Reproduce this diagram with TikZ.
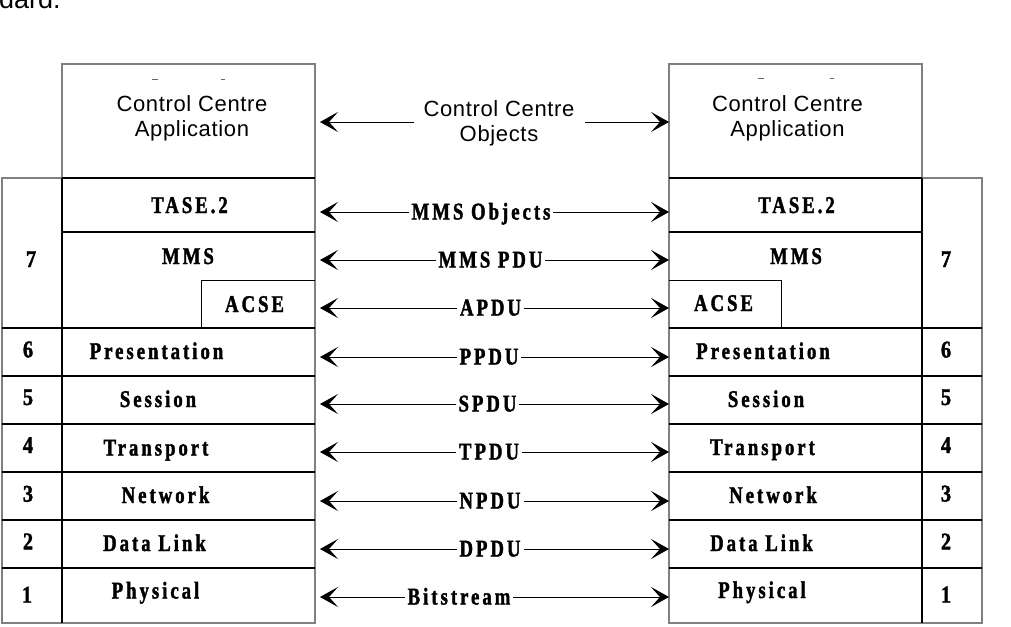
\documentclass[tikz,border=0pt]{standalone}
\usepackage{fontspec}
\setmainfont{Liberation Sans}
\newfontfamily\ccfont{Liberation Sans}[LetterSpace=3]
\newfontfamily\layerfont{Liberation Serif}[BoldFont={Liberation Serif Bold},FakeStretch=0.78,LetterSpace=12.5,FakeBold=1.6]
\newfontfamily\digitfont{Liberation Serif}[BoldFont={Liberation Serif Bold},FakeStretch=0.85,FakeBold=1.6]
\usetikzlibrary{arrows.meta}

\begin{document}
\begin{tikzpicture}[x=1pt,y=-1pt,
  frame/.style={draw=black!50, line width=1.3pt},
  rule/.style={draw=black, line width=1.1pt},
  cc/.style={font=\fontsize{22}{24.3}\selectfont\ccfont, inner sep=0pt},
  layer/.style={font=\fontsize{24}{26}\selectfont\layerfont\bfseries, inner sep=0pt, anchor=base},
  num/.style={font=\fontsize{24}{26}\selectfont\digitfont\bfseries, inner sep=0pt, anchor=base},
  pdu/.style={layer, fill=white, inner xsep=3pt},
  tip/.tip={Stealth[length=18pt,width=20pt,inset=9pt]},
  link/.style={draw=black, line width=1pt, tip-tip}
]
\useasboundingbox (0,0) rectangle (1011,626);

% fragment of the running text above the figure
\node[font=\fontsize{27}{30}\selectfont, anchor=base west, inner sep=0pt] (frag) at (-1,8.5) {dard.};

% ---------- left stack ----------
\draw[frame] (62,64) rectangle (315,178);
\draw[frame] (2,178) rectangle (315,623);
\draw[rule] (62,178) -- (62,623);
\draw[rule] (62,178) -- (315,178);
\draw[rule] (62,232) -- (315,232);
\foreach \y in {328,376,424,472,520,568} \draw[rule] (2,\y) -- (315,\y);
\draw[rule, line width=0.9pt] (201,328) -- (201,280) -- (315,280);
\draw[black!60, line width=0.8pt] (152,79) -- (158,79) (221,79) -- (225,79);

% ---------- right stack ----------
\draw[frame] (669,64) rectangle (922,178);
\draw[frame] (669,178) rectangle (982,623);
\draw[rule] (922,178) -- (922,623);
\draw[rule] (669,178) -- (922,178);
\draw[rule] (669,232) -- (922,232);
\foreach \y in {328,376,424,472,520,568} \draw[rule] (669,\y) -- (982,\y);
\draw[rule, line width=0.9pt] (669,280) -- (781,280) -- (781,328);
\draw[black!60, line width=0.8pt] (758,78) -- (764,78) (830,78) -- (834,78);

% ---------- application boxes ----------
\node[cc, anchor=base] (appLa) at (192,111.7) {Control Centre};
\node[cc, anchor=base] (appLb) at (192,136) {Application};
\node[cc, anchor=base] (appRa) at (787.5,111.7) {Control Centre};
\node[cc, anchor=base] (appRb) at (787.5,136) {Application};

% ---------- layer names ----------
\node[layer] (tL) at (189.5,213) {TASE.2};
\node[layer] (mL) at (188,264) {MMS};
\node[layer] (aL) at (254.5,312) {ACSE};
\node[layer] (pL) at (156.5,359) {Presentation};
\node[layer] (sL) at (158,407) {Session};
\node[layer] (trL) at (156,455.5) {Transport};
\node[layer] (nL) at (165.5,503) {Network};
\node[layer] (dL) at (154.5,551) {Data Link};
\node[layer] (phL) at (155.5,598.5) {Physical};

\node[layer] (tR) at (796.5,213) {TASE.2};
\node[layer] (mR) at (796,264) {MMS};
\node[layer] (aR) at (723.5,311) {ACSE};
\node[layer] (pR) at (763,359) {Presentation};
\node[layer] (sR) at (766,407) {Session};
\node[layer] (trR) at (762.5,455) {Transport};
\node[layer] (nR) at (773,503) {Network};
\node[layer] (dR) at (761.5,551) {Data Link};
\node[layer] (phR) at (762,598) {Physical};

% ---------- layer numbers ----------
\node[num] (n7L) at (31,267) {7};
\node[num] (n6L) at (28,357.3) {6};
\node[num] (n5L) at (28,405) {5};
\node[num] (n4L) at (28,453) {4};
\node[num] (n3L) at (28,501.7) {3};
\node[num] (n2L) at (28,549.3) {2};
\node[num] (n1L) at (27,602.7) {1};

\node[num] (n7R) at (946,267) {7};
\node[num] (n6R) at (946,357.5) {6};
\node[num] (n5R) at (946,405) {5};
\node[num] (n4R) at (946,453) {4};
\node[num] (n3R) at (946,501.5) {3};
\node[num] (n2R) at (946,549.5) {2};
\node[num] (n1R) at (946,602.5) {1};

% ---------- peer exchanges ----------
\foreach \k/\y in {0/122,1/212,2/260,3/308,4/357,5/404,6/452,7/501,8/549,9/597}{
  \coordinate (eL\k) at (320,\y);
  \coordinate (eR\k) at (669,\y);
  \draw[link] (eL\k) -- (eR\k);
}

\node[cc, fill=white, align=center, inner xsep=10pt, inner ysep=1pt] (objs) at (499,123.2) {Control Centre\\Objects};
\node[pdu] (x1) at (481,219.5) {MMS Objects};
\node[pdu] (x2) at (490.5,267.5) {MMS PDU};
\node[pdu] (x3) at (490.5,315.5) {APDU};
\node[pdu] (x4) at (489,364.5) {PPDU};
\node[pdu] (x5) at (487.5,411.5) {SPDU};
\node[pdu] (x6) at (489,459.5) {TPDU};
\node[pdu] (x7) at (490,508.5) {NPDU};
\node[pdu] (x8) at (490,556.5) {DPDU};
\node[pdu] (x9) at (459,604.5) {Bitstream};
\end{tikzpicture}
\end{document}
